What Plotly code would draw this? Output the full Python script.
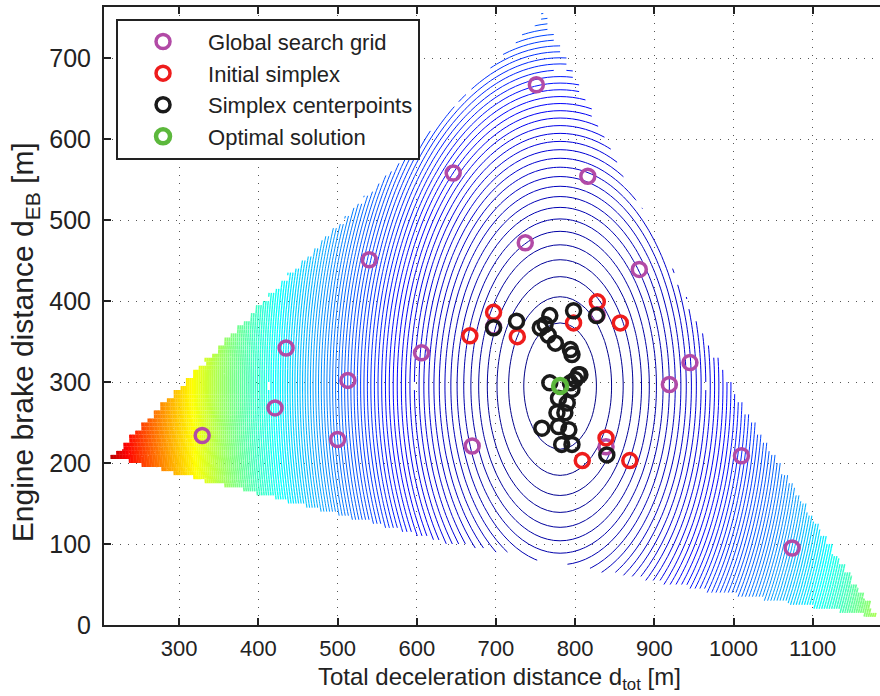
import numpy as np
import plotly.graph_objects as go

# ---------------------------------------------------------------------------
# Cost surface: elliptic bowl around the optimum, one contour per unit step
# ---------------------------------------------------------------------------
bowl_center = (781.0, 295.0)        # d_tot, d_EB of the minimum
bowl_scale = (46.0, 78.0)           # distance per unit of cost along each axis
color_headroom = 1.06               # colour limit relative to the largest level

# Feasible region (triangle-like domain) boundary nodes
upper_left_offset = 2.0             # d_EB <= d_tot - offset
bottom_edge_x = [200, 209, 398, 630, 958, 1143, 1210]
bottom_edge_y = [208, 205, 159, 101, 41, 13, 0]
right_edge_y = [0, 5, 136, 294, 636, 758, 790]
right_edge_x = [1196, 1190, 1102, 1001, 823, 764, 745]

# Sample grid of the evaluation
grid_dx, grid_dy = 8.0, 5.0

# ---------------------------------------------------------------------------
# Optimisation points
# ---------------------------------------------------------------------------
grid_x = [751, 646, 816, 737, 540, 881, 435, 606, 513, 919, 945, 421, 329, 500, 670,
          1010, 1074, 697, 828, 839]
grid_y = [667, 558, 554, 472, 451, 439, 342, 336, 302, 297, 324, 268, 234, 229, 221,
          209, 95, 368, 383, 220]

simplex_x = [697, 667, 727, 828, 798, 857, 839, 809, 869]
simplex_y = [386, 357, 356, 399, 373, 373, 231, 203, 203]

center_x = [697, 726, 768, 798, 827, 756, 762, 766, 775, 794, 796, 804, 800, 806,
            796, 779, 790, 777, 787, 758, 779, 792, 783, 796, 840, 768, 794]
center_y = [367, 375, 382, 388, 382, 367, 371, 358, 348, 340, 334, 309, 303, 309,
            291, 280, 274, 262, 262, 243, 245, 241, 223, 223, 210, 299, 299]

optimal_x = [781]
optimal_y = [295]

x_ticks = list(range(300, 1101, 100))
y_ticks = list(range(0, 701, 100))
x_range = [205, 1185]
y_range = [0, 763]

x_title = "Total deceleration distance d<sub>tot</sub> [m]"
y_title = "Engine brake distance d<sub>EB</sub> [m]"

FONT = "Liberation Sans, Arial, Helvetica, sans-serif"


def jet(t):
    t = min(max(t, 0.0), 1.0)
    r = min(max(1.5 - abs(4 * t - 3), 0), 1)
    g = min(max(1.5 - abs(4 * t - 2), 0), 1)
    b = min(max(1.5 - abs(4 * t - 1), 0), 1)
    return f"rgb({int(r*255)},{int(g*255)},{int(b*255)})"


# Evaluate the cost on the grid, masking everything outside the region
xs = np.arange(x_range[0], 1200, grid_dx)
ys = np.arange(0, 790, grid_dy)
XX, YY = np.meshgrid(xs, ys)
inside = (
    (YY <= XX - upper_left_offset)
    & (YY >= np.interp(XX, bottom_edge_x, bottom_edge_y))
    & (XX <= np.interp(YY, right_edge_y, right_edge_x))
)
Z = ((XX - bowl_center[0]) / bowl_scale[0]) ** 2 + ((YY - bowl_center[1]) / bowl_scale[1]) ** 2
Z = np.where(inside, Z, np.nan)
z_max = np.nanmax(Z)
c_max = z_max * color_headroom


def level_segments(level):
    """Marching squares on the masked grid; returns x, y with NaN breaks."""
    a = Z[:-1, :-1]
    b = Z[:-1, 1:]
    c = Z[1:, 1:]
    d = Z[1:, :-1]
    X0 = XX[:-1, :-1]
    Y0 = YY[:-1, :-1]
    pairs = [(a, b), (b, c), (c, d), (d, a)]
    with np.errstate(invalid="ignore", divide="ignore"):
        cross = np.stack([(p - level) * (q - level) < 0 for p, q in pairs])
        t = np.stack([(level - p) / (q - p) for p, q in pairs])
    px = np.stack([X0 + t[0] * grid_dx, X0 + grid_dx + 0 * t[1],
                   X0 + grid_dx - t[2] * grid_dx, X0 + 0 * t[3]])
    py = np.stack([Y0 + 0 * t[0], Y0 + t[1] * grid_dy,
                   Y0 + grid_dy + 0 * t[2], Y0 + grid_dy - t[3] * grid_dy])
    cnt = cross.sum(0)
    sel = cnt == 2
    order = np.argsort(~cross, axis=0, kind="stable")[:2]
    i0 = order[0][sel]
    i1 = order[1][sel]
    pxs = px[:, sel]
    pys = py[:, sel]
    n = int(sel.sum())
    ar = np.arange(n)
    gap = np.full(n, np.nan)
    sx = np.column_stack([pxs[i0, ar], pxs[i1, ar], gap]).ravel()
    sy = np.column_stack([pys[i0, ar], pys[i1, ar], gap]).ravel()
    return sx, sy


fig = go.Figure()

levels = np.arange(1.0, z_max, 1.0)
for lv in levels:
    sx, sy = level_segments(lv)
    if sx.size == 0:
        continue
    frac = lv / c_max
    # outer, tightly packed levels get a heavier stroke
    width = 1.0 + 1.0 * min(max((lv / z_max - 0.3) / 0.3, 0.0), 1.0)
    fig.add_trace(go.Scatter(
        x=np.round(sx, 2), y=np.round(sy, 2), mode="lines",
        line=dict(color=jet(frac), width=width),
        hoverinfo="skip", showlegend=False,
    ))

marker_common = dict(symbol="circle-open", size=14)
fig.add_trace(go.Scatter(
    x=grid_x, y=grid_y, mode="markers", name="Global search grid",
    marker=dict(**marker_common, color="#b24aa6", line=dict(width=3.5, color="#b24aa6")),
))
fig.add_trace(go.Scatter(
    x=simplex_x, y=simplex_y, mode="markers", name="Initial simplex",
    marker=dict(**marker_common, color="#ee1c1c", line=dict(width=3.5, color="#ee1c1c")),
))
fig.add_trace(go.Scatter(
    x=center_x, y=center_y, mode="markers", name="Simplex centerpoints",
    marker=dict(**marker_common, color="#1a1a1a", line=dict(width=3.5, color="#1a1a1a")),
))
fig.add_trace(go.Scatter(
    x=optimal_x, y=optimal_y, mode="markers", name="Optimal solution",
    marker=dict(**marker_common, color="#5cb83c", line=dict(width=4.5, color="#5cb83c")),
))

axis_common = dict(
    ticks="inside", ticklen=7, tickwidth=1.5, tickcolor="#222",
    showline=True, linecolor="#222", linewidth=2,
    showgrid=True, gridcolor="#555", gridwidth=1, griddash="1px,7px",
    zeroline=False,
)

fig.update_layout(
    width=880, height=696,
    margin=dict(l=104, r=0, t=7, b=71),
    paper_bgcolor="white", plot_bgcolor="white",
    font=dict(family=FONT, color="#222"),
    xaxis=dict(
        **axis_common, range=x_range, tickvals=x_ticks, mirror="ticks",
        tickfont=dict(size=22), ticklabelstandoff=3,
    ),
    yaxis=dict(
        **axis_common, range=y_range, tickvals=y_ticks,
        tickfont=dict(size=25), ticklabelstandoff=6,
    ),
    legend=dict(
        x=0.0155, y=0.981, xanchor="left", yanchor="top",
        bgcolor="white", bordercolor="#222", borderwidth=2,
        font=dict(size=22), itemwidth=80, tracegroupgap=0,
    ),
    showlegend=True,
    annotations=[
        dict(text=x_title, xref="paper", yref="paper", x=0.5095, y=-0.086,
             xanchor="center", yanchor="middle", showarrow=False,
             font=dict(size=24, color="#222")),
        dict(text=y_title, xref="paper", yref="paper", x=-0.1015, y=0.458,
             xanchor="center", yanchor="middle", textangle=-90, showarrow=False,
             font=dict(size=30, color="#222")),
    ],
)

fig.write_html("out.html")
